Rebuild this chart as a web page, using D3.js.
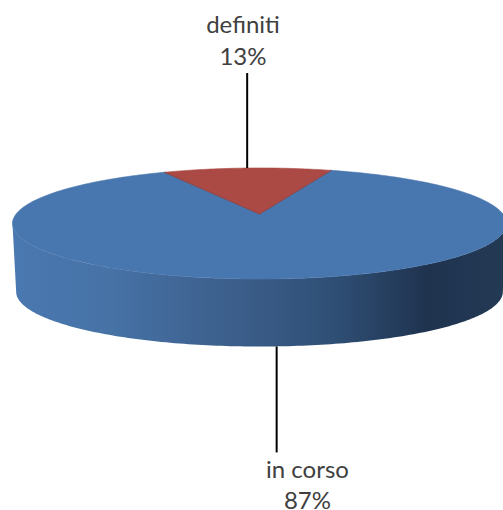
<!DOCTYPE html>
<html>
<head>
<meta charset="utf-8">
<script src="https://cdn.jsdelivr.net/npm/d3@7"></script>
<style>
    html, body { margin: 0; padding: 0; background: #fff; overflow: hidden; }
    svg { display: block; }
    text { font-family: Lato, "Open Sans", sans-serif; font-size: 24px; fill: #404040; text-anchor: middle; }
</style>
</head>
<body>
<div id="svg-container"></div>
<script>
var categories = ["definiti", "in corso"];
var values = [13, 87];
var colors = ["#ab4a45", "#4876ae"];

var width = 503, height = 510;
var cx = 259.5, cy = 214;      // where the slices meet on the top face
var rx = 243.4, ry = 53.9;     // disc radii before perspective
var persp = 0.171;             // the far side of the disc shrinks by this
var sideDrop = 68.5, sideScale = 0.985;
var startDeg = -26.8;

var svg = d3.select("#svg-container").append("svg")
    .attr("width", width)
    .attr("height", height);

var grad = svg.append("defs").append("linearGradient")
    .attr("id", "side")
    .attr("gradientUnits", "userSpaceOnUse")
    .attr("x1", 12).attr("x2", 507).attr("y1", 0).attr("y2", 0);
[[0, "#4a78b0"], [0.2, "#4672a6"], [0.4, "#3e6290"], [0.65, "#2f4f75"], [0.84, "#1f334f"], [1, "#233a55"]].forEach(function (s) {
    grad.append("stop").attr("offset", s[0]).attr("stop-color", s[1]);
});

// perspective projection of a point on the unit disc, a is clockwise from the back
function projectTop(a, r) {
    var X = r * Math.sin(a), Y = r * Math.cos(a);
    var s = 1 / (1 + persp * Y);
    return [cx + rx * X * s, cy - ry * Y * s];
}
function projectBottom(a) {
    var X = Math.sin(a), Y = Math.cos(a);
    var s = 1 / (1 + persp * Y);
    return [cx + rx * sideScale * X * s, cy + sideDrop - ry * sideScale * Y * s];
}

var pie = d3.pie()
    .sort(null)
    .startAngle(startDeg * Math.PI / 180)
    .endAngle((startDeg + 360) * Math.PI / 180);
var arcs = pie(values);

function steps(a0, a1) {
    var n = Math.max(2, Math.ceil(Math.abs(a1 - a0) * 60));
    return d3.range(n + 1).map(function (i) { return a0 + (a1 - a0) * i / n; });
}

var line = d3.line();

// front wall, between the two points where the rim turns
var yTurn = -(persp / (1 - persp * persp)) / (1 + persp * persp / (1 - persp * persp));
var aL = Math.PI - Math.acos(-yTurn), aR = Math.PI + Math.acos(-yTurn);
var wall = steps(aL, aR).map(function (a) { return projectTop(a, 1); })
    .concat(steps(aR, aL).map(projectBottom));
svg.append("path")
    .attr("d", line(wall) + "Z")
    .style("fill", "url(#side)");

// top face, big slice first so the small one sits over its edge
arcs.slice().reverse().forEach(function (d) {
    var pts = [projectTop(0, 0)].concat(steps(d.startAngle, d.endAngle).map(function (a) { return projectTop(a, 1); }));
    svg.append("path")
        .attr("d", line(pts) + "Z")
        .style("fill", colors[d.index])
        .style("stroke", colors[d.index])
        .style("stroke-width", 0.6);
});

// thin dark edge along the small slice
svg.append("path")
    .attr("d", line([projectTop(arcs[0].startAngle, 1), projectTop(0, 0), projectTop(arcs[0].endAngle, 1)]))
    .style("fill", "none")
    .style("stroke", "#7d3f45")
    .style("stroke-width", 0.7);

// leader lines and labels, from each slice's middle
var leaderLen = [95, 106];
var labelPos = [[243, 33, 65], [307.5, 478, 509]];
arcs.forEach(function (d, i) {
    var mid = (d.startAngle + d.endAngle) / 2;
    var isBack = Math.cos(mid) > 0;
    var p = isBack ? projectTop(mid, 1) : projectBottom(mid);
    svg.append("line")
        .attr("x1", p[0]).attr("x2", p[0])
        .attr("y1", p[1])
        .attr("y2", p[1] + (isBack ? -leaderLen[i] : leaderLen[i]))
        .style("stroke", "#000")
        .style("stroke-width", 2);

    svg.append("text").attr("x", labelPos[i][0]).attr("y", labelPos[i][1]).text(categories[i]);
    svg.append("text").attr("x", labelPos[i][0]).attr("y", labelPos[i][2]).text(values[i] + "%");
});
</script>
</body>
</html>
